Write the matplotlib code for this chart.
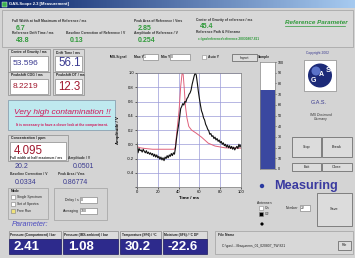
import matplotlib
matplotlib.use("Agg")
import matplotlib.pyplot as plt
import numpy as np
from matplotlib.patches import Rectangle, Circle
from matplotlib.colors import LinearSegmentedColormap

plt.rcParams["font.family"] = ["Liberation Sans", "DejaVu Sans"]

# measured IMS spectrum (black)
time_meas = [0, 1, 2, 3, 4, 5, 6, 7, 8, 9, 10, 11, 12, 13, 14, 15, 16, 17, 18, 19,
             20, 21, 22, 23, 24, 25, 26, 27, 28, 29, 30, 31, 32, 33, 34, 35, 36, 37, 38, 39,
             40, 41, 42, 43, 44, 45, 46, 47, 48, 49, 50, 51, 52, 53, 54, 55, 56, 57, 58, 59,
             60, 61, 62, 63, 64, 65, 66, 67, 68, 69, 70, 71, 72, 73, 74, 75, 76, 77, 78, 79,
             80, 81, 82, 83, 84, 85, 86, 87, 88, 89, 90, 91, 92, 93, 94, 95, 96, 97, 98, 99, 100]
amp_meas = [0.02, -0.12, -0.06, -0.09, -0.08, -0.11, -0.07, -0.10, -0.12, -0.09,
            -0.13, -0.11, -0.14, -0.12, -0.15, -0.13, -0.17, -0.14, -0.18, -0.15,
            -0.19, -0.17, -0.21, -0.18, -0.22, -0.19, -0.23, -0.18, -0.20, -0.16,
            -0.19, -0.15, -0.17, -0.13, -0.16, -0.12, -0.14, -0.05, 0.08, 0.18,
            0.27, 0.38, 0.50, 0.53, 0.57, 0.55, 0.60, 0.59, 0.64, 0.66,
            0.70, 0.72, 0.76, 0.84, 0.90, 0.96, 1.00, 0.97, 0.86, 0.74,
            0.64, 0.55, 0.47, 0.43, 0.37, 0.34, 0.28, 0.25, 0.21, 0.19,
            0.14, 0.15, 0.11, 0.12, 0.08, 0.10, 0.06, 0.08, 0.04, 0.06,
            0.02, 0.04, 0.00, 0.02, -0.02, 0.00, -0.04, -0.01, -0.05, -0.02,
            -0.06, -0.03, -0.07, -0.04, -0.08, -0.05, -0.03, -0.06, 0.00, -0.04, -0.01]

# reference spectrum (red)
time_ref = [0, 1, 3, 8, 15, 25, 36, 37, 38, 39.5, 40.5, 42, 43.4, 44.4, 45.3,
            46.6, 48, 49.8, 52.4, 57, 62, 68.5, 75, 84.6, 100]
amp_ref = [-0.02, -0.04, -0.05, -0.06, -0.07, -0.07, -0.07, -0.03, 0.13, 0.34, 0.48,
           0.81, 1.00, 0.98, 0.81, 0.53, 0.37, 0.25, 0.20, 0.155, 0.10, 0.015,
           -0.025, -0.05, -0.055]

x_ticks = [0, 20, 40, 60, 80, 100]
y_ticks = [-0.6, -0.4, -0.2, 0.0, 0.2, 0.4, 0.6, 0.8, 1.0]
y_labels = ["", "-0.4", "-0.2", "0.0", "0.2", "0.4", "0.6", "0.8", "1.0"]

sample_level = 74
sample_ticks = [0, 10, 20, 30, 40, 50, 60, 70, 80, 90, 100]

ref_labels = ["Full Width at half Maximum of Reference / ms", "Reference Drift Time / ms",
              "Baseline Correction of Reference / V", "Peak Area of Reference / Vms",
              "Amplitude of Reference / V", "Center of Gravity of reference / ms"]
ref_values = ["6.7", "43.8", "0.13", "2.85", "0.254", "45.4"]

result_labels = ["Full width at half maximum / ms", "Amplitude / V",
                 "Baseline Correction / V", "Peak Area / Vms"]
result_values = ["20.2", "0.0501", "0.0334", "0.86774"]

param_labels = ["Pressure (Compartment) / bar", "Pressure (IMS-ambient) / bar",
                "Temperature (SF6) / °C", "Moisture (SF6) / °C DP"]
param_values = ["2.41", "1.08", "30.2", "-22.6"]

GRAY = "#d4d4d4"
GREEN = "#2f9a3a"
VBLUE = "#3a3a90"
DRED = "#a0182e"
NAVY = "#2d2a8c"

fig = plt.figure(figsize=(3.55, 2.58), dpi=100)
fig.patch.set_facecolor(GRAY)
ui = fig.add_axes([0, 0, 1, 1])
ui.set_axis_off()


def box(x, y, w, h, fc="white", ec="#8a8a8a", lw=0.5, z=1):
    ui.add_patch(Rectangle((x, y), w, h, facecolor=fc, edgecolor=ec, lw=lw, zorder=z))


def txt(x, y, s, size=2.5, color="#202020", **kw):
    kw.setdefault("va", "center")
    ui.text(x, y, s, fontsize=size, color=color, zorder=5, **kw)


def button(x, y, w, h, s, size=2.7):
    box(x, y, w, h, fc="#dcdcdc", ec="#707070", lw=0.6)
    txt(x + w / 2, y + h / 2, s, size, ha="center")


# title bar
cmap = LinearSegmentedColormap.from_list("tb", ["#0a246a", "#a6caf0"])
ui.imshow(np.linspace(0, 1, 200).reshape(1, -1), cmap=cmap, extent=(0, 355, 8, 0),
          aspect="auto", zorder=2)
box(2, 1.5, 5, 5, fc="#3cb050", ec="white", lw=0.3, z=3)
txt(9, 4, "GAS-Scope 2.3 [Measurement]", 3.0, "white", weight="bold")

# reference parameter panel
box(2, 10, 351, 37, fc="#d8d8d8", ec="#a0a0a0")
pos = [(12, 20.5), (12, 33), (66, 33), (134, 20.5), (134, 33), (196, 20)]
offs = [7.5, 8, 8, 7.5, 8, 6.5]
for (x, y), dy, lab, val in zip(pos, offs, ref_labels, ref_values):
    txt(x, y, lab, 2.4, "#303030", weight="bold")
    txt(x + 4, y + dy, val, 5.0, GREEN, weight="bold")
txt(196, 32, "Reference Path & Filename", 2.4, "#303030", weight="bold")
txt(198, 39, "c:\\gas\\reference\\reference 20030807.811", 2.3, GREEN, weight="bold")
txt(285, 23, "Reference Parameter", 4.5, GREEN, weight="bold", style="italic")
ui.plot([285, 345], [26, 26], color=GREEN, lw=0.5, zorder=5)

# result boxes
for x, w, lab, val, col, size, y in [
        (8, 42, "Centre of Gravity / ms", "53.596", VBLUE, 6.0, 49),
        (53, 31, "Drift Time / ms", "56.1", VBLUE, 8.3, 49),
        (8, 42, "Peakshift COG / ms", "8.2219", DRED, 6.0, 72),
        (53, 31, "Peakshift DT / ms", "12.3", DRED, 8.3, 72)]:
    box(x, y, w, 23, fc="#d8d8d8")
    txt(x + 3, y + 3.5, lab, 2.4, weight="bold")
    box(x + 2, y + 7, w - 4, 15)
    txt(x + 5, y + 14.5, val, size, col)

# contamination warning
box(8, 100, 107, 30, fc="#bfe9ef", ec="#8aa0b0", lw=0.6)
txt(62, 112, "Very high contamination !!", 6.0, "#d0185a", ha="center", style="italic")
ui.plot([15, 110], [116, 116], color="#d0185a", lw=0.5, zorder=5)
txt(62, 125, "It is necessary to have a closer look at the compartment.", 2.4, "#d0185a",
    ha="center", weight="bold")

box(8, 135, 60, 26, fc="#d8d8d8")
txt(11, 138.5, "Concentration / ppm", 2.5, weight="bold")
box(10, 142, 56, 18)
txt(14, 151, "4.095", 8.3, DRED)

pos = [(10, 158), (68, 158), (10, 174), (58, 174)]
for (x, y), lab, val in zip(pos, result_labels, result_values):
    txt(x, y, lab, 2.4, "#303030", weight="bold")
    txt(x + 5, y + 8.5, val, 5.0, VBLUE)

# mode / delay
box(8, 188, 40, 31, fc=GRAY, ec="#a0a0a0")
txt(11, 191, "Mode", 2.4, weight="bold")
for yy, lab, fc in [(197, "Single Spectrum", "white"), (204, "Set of Spectra", "white"),
                    (211, "Free Run", "#f0e27a")]:
    box(11, yy - 2, 4, 4, fc=fc, ec="#808080", lw=0.4)
    txt(17, yy, lab, 2.4)
box(54, 188, 53, 32, fc=GRAY, ec="#a0a0a0")
txt(79, 200, "Delay / s", 2.5, ha="right")
box(80, 197, 17, 6)
txt(81, 200, "0", 2.5)
txt(79, 211, "Averaging", 2.5, ha="right")
box(80, 208, 17, 6)
txt(81, 211, "100", 2.5)

# parameter strip
txt(12, 225, "Parameter:", 5.3, "#4a4ac0", style="italic")
for (x, w), lab, val in zip([(9, 52), (63, 55), (120, 41), (163, 44)],
                            param_labels, param_values):
    box(x, 231, w, 8, fc="#dcdcdc")
    txt(x + 1.5, 235, lab, 2.3, weight="bold")
    box(x, 239, w, 15, fc=NAVY, ec="#1a1860")
    txt(x + 5, 247, val, 9.5, "white", weight="bold")
box(215, 231, 138, 23, fc="#d8d8d8", ec="#a0a0a0")
txt(218, 234.5, "File Name", 2.4, weight="bold")
txt(222, 246, "C:\\gas\\...\\Ifraqueens_01_020807_TW 821", 2.4)
button(338, 241, 13, 9, "File", 2.4)

# plot controls
txt(110, 57, "IMS-Signal", 2.4, weight="bold")
txt(134, 57, "Max Y", 2.4, weight="bold")
box(143, 54, 15, 6)
txt(144, 57, "1", 2.5)
txt(161, 57, "Min Y", 2.4, weight="bold")
box(170, 54, 20, 6)
txt(171, 57, "0", 2.5)
box(202, 55, 4, 4, lw=0.4)
txt(208, 57, "Auto Y", 2.4, weight="bold")
button(232, 54, 25, 7, "Import", 2.4)
txt(258, 57, "Sample", 2.4, weight="bold")

# right side
txt(318, 53, "Copyright 2002", 2.4, "#3a3a90", ha="center")
box(304, 60, 32, 31)
ui.add_patch(Circle((320, 75.5), 12, facecolor="#1c2a78", edgecolor="none", zorder=3))
ui.add_patch(Circle((316, 71), 4.5, facecolor="#5a72c8", edgecolor="none", zorder=3))
txt(313, 80, "G", 5, "white", ha="center", weight="bold")
txt(321, 75, "A", 5, "white", ha="center", weight="bold")
txt(328, 70, "S", 5.5, "white", ha="center", weight="bold")
txt(319, 103, "G.A.S.", 4.0, "#3a3a90", ha="center")
txt(321, 117, "IMS Dortmund\nGermany", 2.4, "#303030", ha="center", style="italic",
    linespacing=1.0)
button(292, 137, 29, 20, "Stop")
button(322, 137, 30, 20, "Break")
button(292, 163, 29, 8, "Exit")
button(322, 163, 30, 8, "Close")
ui.add_patch(Circle((262, 186), 2.2, facecolor="#2a3aa0", edgecolor="none", zorder=4))
txt(274, 186, "Measuring", 9.2, "#3a3aa0", weight="bold")
txt(257, 203, "Antennen", 2.4)
box(259, 206, 4, 4, lw=0.4)
txt(265, 208, "On", 2.4)
box(259, 212, 4, 4, fc="black", lw=0.4)
txt(265, 214, "Off", 2.4)
ui.add_patch(Circle((262, 224), 1.6, facecolor="black", edgecolor="none", zorder=4))
txt(298, 208, "Number", 2.5, ha="right")
box(300, 205, 10, 6)
txt(301, 208, "22", 2.5)
button(317, 193, 35, 33, "Save")

ui.set_xlim(0, 355)
ui.set_ylim(258, 0)

# IMS signal plot
ax = fig.add_axes([137 / 355, 1 - 187 / 258, 104 / 355, 114 / 258])
ax.set_facecolor("white")
ax.plot(time_ref, amp_ref, color="#e0607a", lw=0.7)
ax.plot(time_meas, amp_meas, color="#101010", lw=0.8)
ax.set_xlim(0, 100)
ax.set_ylim(-0.6, 1.0)
ax.set_xticks(x_ticks)
ax.set_yticks(y_ticks)
ax.set_yticklabels(y_labels)
ax.grid(True, color="#9a9ad8", lw=0.5)
ax.tick_params(labelsize=3.0, length=1.2, width=0.4, pad=1)
for s in ax.spines.values():
    s.set_color("#808080")
    s.set_linewidth(0.5)
ax.set_xlabel("Time / ms", fontsize=3.2, labelpad=1.5, weight="bold")
ax.set_ylabel("Amplitude / V", fontsize=3.2, labelpad=5, weight="bold")

# sample level bar
sx = fig.add_axes([260 / 355, 1 - 169 / 258, 15 / 355, 107 / 258])
sx.set_facecolor("white")
sx.bar([0], [sample_level], width=1, color="#3a48a0")
sx.set_xlim(-0.5, 0.5)
sx.set_ylim(0, 100)
sx.set_xticks([])
sx.set_yticks(sample_ticks)
sx.yaxis.tick_right()
sx.tick_params(labelsize=2.6, length=1.0, width=0.4, pad=0.8)
for s in sx.spines.values():
    s.set_color("#808080")
    s.set_linewidth(0.5)

fig.savefig("out.png", dpi=100, facecolor=fig.get_facecolor())
